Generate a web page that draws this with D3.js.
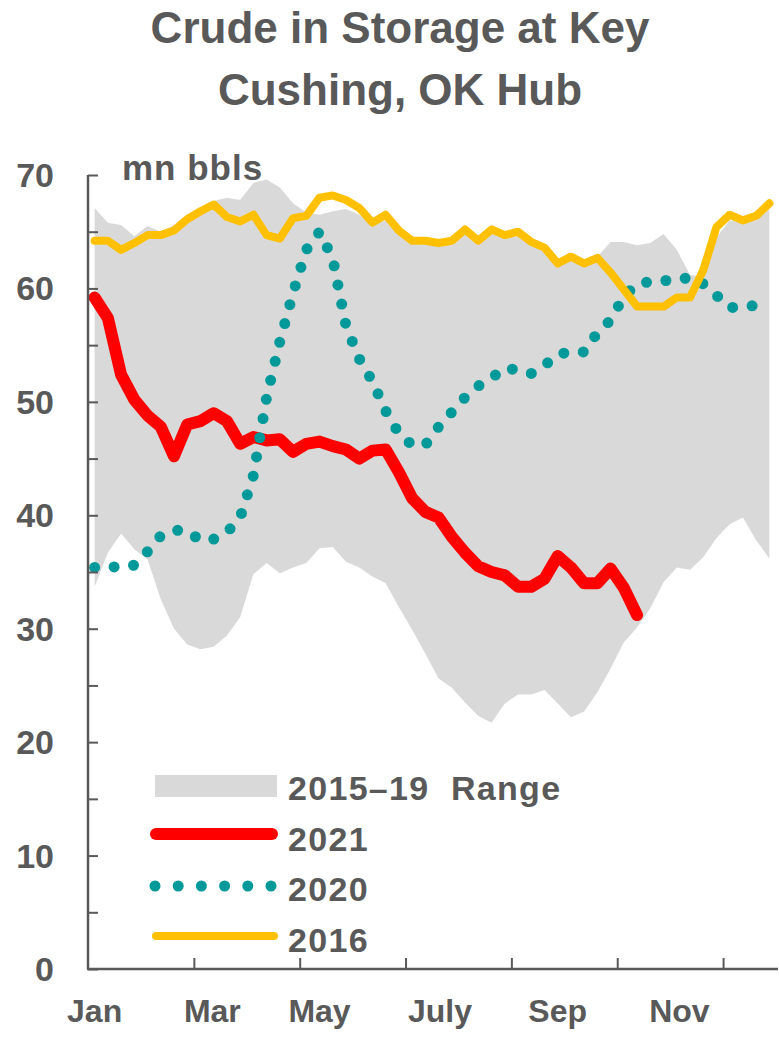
<!DOCTYPE html>
<html>
<head>
<meta charset="utf-8">
<script src="https://cdn.jsdelivr.net/npm/d3@7"></script>
<style>
  body { margin: 0; background: #fff; }
  text { font-family: "Liberation Sans", Arial, sans-serif; font-weight: bold; fill: #595959; }
</style>
</head>
<body>
<div id="chart"></div>
<script>
// donnees hebdomadaires (semaine 0 a 51), millions de barils
var range_bas = [33.7, 36.7, 38.4, 37.0, 36.1, 32.6, 30.0, 28.6, 28.2, 28.4, 29.4, 31.0, 34.8, 35.8, 34.9, 35.4, 35.8, 37.1, 37.2, 35.9,
  35.4, 34.6, 34.0, 31.9, 29.9, 27.8, 25.6, 24.8, 23.5, 22.3, 21.7, 23.4, 24.2, 24.2, 24.6, 23.4, 22.2, 22.7, 24.4, 26.5,
  28.8, 30.1, 31.8, 34.1, 35.4, 35.2, 36.3, 38.0, 39.2, 39.8, 37.8, 36.2];
var range_haut = [67.1, 65.8, 65.6, 64.6, 65.5, 65.0, 65.6, 66.5, 67.0, 67.7, 68.0, 67.8, 69.3, 69.6, 68.9, 67.5, 66.7, 66.5, 66.8, 67.0,
  66.5, 65.5, 66.0, 64.8, 64.0, 64.0, 63.8, 64.0, 64.8, 64.0, 64.8, 64.5, 64.6, 63.8, 63.3, 62.0, 62.5, 62.0, 62.8, 64.1,
  64.1, 63.8, 64.0, 64.8, 63.4, 61.2, 61.0, 64.5, 66.0, 65.8, 66.0, 67.0];
var serie2021 = [59.2, 57.4, 52.4, 50.2, 48.8, 47.8, 45.2, 48.0, 48.3, 49.0, 48.3, 46.3, 46.9, 46.6, 46.7, 45.6, 46.3, 46.5, 46.1, 45.8,
  45.0, 45.7, 45.8, 43.8, 41.5, 40.3, 39.8, 38.1, 36.7, 35.5, 35.0, 34.7, 33.7, 33.7, 34.4, 36.4, 35.4, 34.0, 34.0, 35.3,
  33.6, 31.2];
var serie2020 = [35.4, 35.4, 35.5, 35.6, 36.8, 38.2, 38.7, 38.6, 37.8, 37.9, 38.5, 39.8, 43.5, 50.4, 55.3, 59.6, 63.4, 65.0, 62.6, 56.7,
  53.8, 51.8, 49.2, 47.2, 46.2, 46.2, 47.8, 49.1, 50.4, 51.4, 52.1, 53.0, 52.8, 52.5, 53.2, 54.2, 54.4, 54.4, 56.1, 57.2,
  59.3, 60.4, 60.6, 60.7, 60.7, 61.0, 60.4, 59.4, 58.3, 58.4, 58.5];
var serie2016 = [64.2, 64.2, 63.4, 64.0, 64.7, 64.7, 65.1, 66.1, 66.8, 67.4, 66.3, 65.9, 66.5, 64.7, 64.4, 66.2, 66.4, 68.0, 68.2, 67.8,
  67.1, 65.8, 66.5, 65.1, 64.2, 64.2, 64.0, 64.2, 65.2, 64.2, 65.2, 64.7, 65.0, 64.1, 63.6, 62.2, 62.8, 62.2, 62.7, 61.4,
  59.9, 58.4, 58.4, 58.4, 59.2, 59.2, 61.6, 65.4, 66.5, 66.0, 66.4, 67.5];

var mois = ["Jan", "Mar", "May", "July", "Sep", "Nov"];
var mois_pos = [0, 8.9, 17, 26.1, 35, 44.2]; // en semaines
var ticks_x = [7.5, 15.5, 23.5, 31.5, 39.5, 47.5];
var ticks_y = [0, 5, 10, 15, 20, 25, 30, 35, 40, 45, 50, 55, 60, 65, 70];
var labels_y = [0, 10, 20, 30, 40, 50, 60, 70];

var legende = ["2015\u201319  Range", "2021", "2020", "2016"];

var largeur = 779, hauteur = 1038;
var gris = "#595959";

var svg = d3.select("#chart").append("svg")
    .attr("width", largeur)
    .attr("height", hauteur);

var x = d3.scaleLinear().domain([-0.5, 51.5]).range([88, 776]);
var y = d3.scaleLinear().domain([0, 70]).range([969, 175]);

// titre
svg.append("text").attr("x", 400).attr("y", 43).attr("text-anchor", "middle")
    .style("font-size", "44px").text("Crude in Storage at Key");
svg.append("text").attr("x", 400).attr("y", 105).attr("text-anchor", "middle")
    .style("font-size", "44px").text("Cushing, OK Hub");

// bande 2015-19
var aire = d3.area()
    .x(function(d, i) { return x(i); })
    .y0(function(d, i) { return y(range_bas[i]); })
    .y1(function(d) { return y(d); });
svg.append("path").datum(range_haut)
    .attr("d", aire)
    .attr("fill", "#d9d9d9");

var ligne = d3.line()
    .x(function(d, i) { return x(i); })
    .y(function(d) { return y(d); });

svg.append("path").datum(serie2021)
    .attr("d", ligne)
    .attr("fill", "none")
    .attr("stroke", "#ff0000")
    .attr("stroke-width", 12)
    .attr("stroke-linejoin", "round")
    .attr("stroke-linecap", "round");

svg.append("path").datum(serie2020)
    .attr("d", ligne)
    .attr("fill", "none")
    .attr("stroke", "#009999")
    .attr("stroke-width", 11)
    .attr("stroke-dasharray", "0 19.5")
    .attr("stroke-linecap", "round");

svg.append("path").datum(serie2016)
    .attr("d", ligne)
    .attr("fill", "none")
    .attr("stroke", "#ffc000")
    .attr("stroke-width", 8)
    .attr("stroke-linejoin", "round")
    .attr("stroke-linecap", "round");

// axes
var axeY = svg.append("g").attr("transform", "translate(88,0)")
    .call(d3.axisRight(y).tickValues(ticks_y).tickSize(10).tickFormat(""));
axeY.select(".domain").attr("stroke", gris).attr("stroke-width", 2.5).attr("d", "M0," + y(70) + "V" + y(0));
axeY.selectAll(".tick line").attr("stroke", gris).attr("stroke-width", 2);

svg.selectAll(".ylab").data(labels_y).enter().append("text")
    .attr("x", 54)
    .attr("y", function(d) { return y(d) + 12; })
    .attr("text-anchor", "end")
    .style("font-size", "34px")
    .text(function(d) { return d; });

var axeX = svg.append("g").attr("transform", "translate(0,969)")
    .call(d3.axisTop(x).tickValues(ticks_x).tickSize(11).tickFormat(""));
axeX.select(".domain").attr("stroke", gris).attr("stroke-width", 2.5).attr("d", "M87,0H778");
axeX.selectAll(".tick line").attr("stroke", gris).attr("stroke-width", 2);

svg.selectAll(".xlab").data(mois).enter().append("text")
    .attr("x", function(d, i) { return x(mois_pos[i]); })
    .attr("y", 1022)
    .attr("text-anchor", "middle")
    .style("font-size", "32px")
    .text(function(d) { return d; });

svg.append("text").attr("x", 122).attr("y", 180)
    .style("font-size", "35px").style("letter-spacing", "1px").text("mn bbls");

// legende
var leg = svg.append("g");
leg.append("rect").attr("x", 155).attr("y", 775).attr("width", 122).attr("height", 22).attr("fill", "#d9d9d9");
leg.append("line").attr("x1", 156).attr("x2", 272).attr("y1", 834).attr("y2", 834)
    .attr("stroke", "#ff0000").attr("stroke-width", 12).attr("stroke-linecap", "round");
leg.append("line").attr("x1", 155).attr("x2", 272).attr("y1", 886).attr("y2", 886)
    .attr("stroke", "#009999").attr("stroke-width", 11).attr("stroke-linecap", "round")
    .attr("stroke-dasharray", "0 23.2");
leg.append("line").attr("x1", 156).attr("x2", 274).attr("y1", 936).attr("y2", 936)
    .attr("stroke", "#ffc000").attr("stroke-width", 8).attr("stroke-linecap", "round");
leg.selectAll(".legtxt").data(legende).enter().append("text")
    .attr("x", 288)
    .attr("y", function(d, i) { return 800 + i * 50.5; })
    .style("font-size", "34px")
    .style("letter-spacing", "1.3px")
    .attr("xml:space", "preserve")
    .style("white-space", "pre")
    .text(function(d) { return d; });
</script>
</body>
</html>
